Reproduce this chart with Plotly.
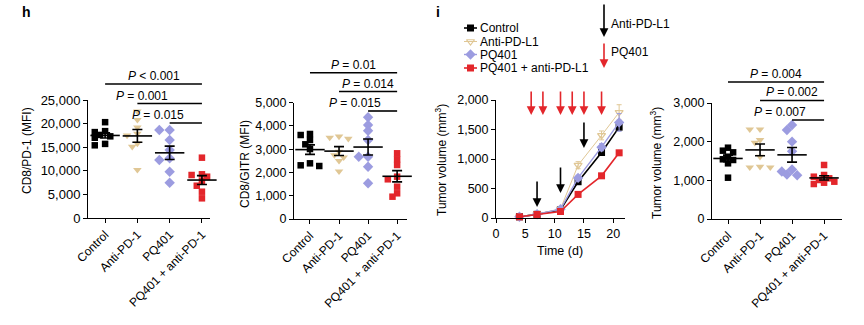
import numpy as np
import plotly.graph_objects as go

W, H = 864, 325
FONT = "Arial, Liberation Sans, Helvetica, sans-serif"

# ---------------- data ----------------
groups = ["Control", "Anti-PD-1", "PQ401", "PQ401 + anti-PD-1"]

pd1_control = [20300, 18400, 18200, 17600, 17300, 17000, 15700, 15400]
pd1_anti = [22600, 20800, 19200, 17900, 17500, 15800, 15100, 10200]
pd1_pq = [18640, 18640, 16530, 14410, 12650, 12290, 9810, 7480]
pd1_combo = [12780, 9260, 9110, 8750, 7840, 6840, 5570, 4170]

gitr_control = [3655, 3611, 3396, 3211, 3009, 2394, 2278, 2308]
gitr_anti = [3550, 3500, 3450, 2900, 2750, 2650, 2500, 2050]
gitr_pq = [4373, 4041, 3797, 3396, 2678, 2678, 2248, 1535]
gitr_combo = [2825, 2567, 2322, 1819, 1707, 1389, 1105, 959]

tv_control = [1844, 1767, 1724, 1611, 1544, 1526, 1440, 1068]
tv_anti = [2320, 2320, 2043, 1974, 1611, 1337, 1337, 1353]
tv_pq = [2430, 2300, 2000, 1750, 1280, 1230, 1150, 1130]
tv_combo = [1397, 1138, 1094, 1052, 1009, 965, 939, 905]

time_days = [4, 7, 11, 14, 18, 21]
curve_names = ["Control", "Anti-PD-L1", "PQ401", "PQ401 + anti-PD-L1"]
curve_control = [20, 62, 140, 615, 1110, 1540]
curve_anti = [20, 66, 155, 895, 1400, 1790]
curve_pq = [20, 64, 150, 680, 1200, 1620]
curve_combo = [20, 60, 110, 400, 715, 1105]
sem_control = [3, 6, 15, 35, 50, 45]
sem_anti = [3, 7, 20, 60, 75, 130]
sem_pq = [3, 7, 18, 45, 60, 150]
sem_combo = [3, 6, 12, 25, 35, 30]

pq401_days = [6, 8, 11, 13, 15, 18]
antipdl1_days = [7, 11, 15]
antipdl1_arrow_tip = [186, 424, 1186]

pd1_pvals = [(0, 3, "<i>P</i> < 0.001"), (1, 3, "<i>P</i> = 0.001"), (2, 3, "<i>P</i> = 0.015")]
gitr_pvals = [(0, 3, "<i>P</i> = 0.01"), (1, 3, "<i>P</i> = 0.014"), (2, 3, "<i>P</i> = 0.015")]
tv_pvals = [(0, 3, "<i>P</i> = 0.004"), (1, 3, "<i>P</i> = 0.002"), (2, 3, "<i>P</i> = 0.007")]

# ---------------- styles ----------------
BLACK = "#000000"
TAN = "#e0c795"
LAV = "#9c9ce0"
RED = "#e3262b"
g_colors = [BLACK, TAN, LAV, RED]
g_symbols = ["square", "triangle-down", "diamond", "square"]
g_sizes = [6.5, 7.5, 8, 6.5]
c_symbols = ["square", "triangle-down-open", "diamond", "square"]
c_widths = [1.6, 1.0, 1.4, 1.6]


def px_x(p):
    return p / W


def px_y(p):
    return 1 - p / H


fig = go.Figure()

axis_common = dict(showline=True, linecolor="black", linewidth=1, ticks="outside",
                   ticklen=4, tickcolor="black", tickwidth=1, showgrid=False,
                   zeroline=False, automargin=False,
                   tickfont=dict(family=FONT, size=12, color="black"))

panels = {
    1: dict(xd=(88, 210), yd=(218, 100), xr=(-0.53, 3.25), yr=(0, 25000), dt=5000, yfs=13),
    2: dict(xd=(294, 407), yd=(219, 102.7), xr=(-0.55, 3.34), yr=(0, 5000), dt=1000, yfs=12.5),
    3: dict(xd=(496, 625), yd=(218, 100), xr=(0, 22), yr=(0, 2000), dt=500, yfs=12.5),
    4: dict(xd=(712, 842), yd=(219, 103), xr=(-0.5, 3.56), yr=(0, 3000), dt=1000, yfs=12.5),
}

for k, p in panels.items():
    suffix = "" if k == 1 else str(k)
    xa = dict(axis_common, domain=[px_x(p["xd"][0]), px_x(p["xd"][1])], range=list(p["xr"]),
              anchor="y" + suffix)
    ya = dict(axis_common, domain=[px_y(p["yd"][0]), px_y(p["yd"][1])], range=list(p["yr"]),
              anchor="x" + suffix, dtick=p["dt"], tickformat=",d",
              tickfont=dict(family=FONT, size=p["yfs"], color="black"))
    if k == 3:
        xa.update(dtick=5, tick0=0, tickfont=dict(family=FONT, size=12.5, color="black"))
    else:
        xa.update(tickvals=[0, 1, 2, 3], ticktext=groups, tickangle=-45)
    fig.update_layout(**{"xaxis" + suffix: xa, "yaxis" + suffix: ya})

# overlay axis in pixel space for legend glyphs and titles
fig.update_layout(
    xaxis5=dict(domain=[0, 1], range=[0, W], visible=False, anchor="y5", automargin=False),
    yaxis5=dict(domain=[0, 1], range=[H, 0], visible=False, anchor="x5", automargin=False),
)


def swarm(vals, px_per_unit, px_per_cat, step=0.16, min_px=5.5):
    vals = np.asarray(vals, dtype=float)
    order = np.argsort(-vals)
    placed = []
    offs = np.zeros(len(vals))
    for idx in order:
        ypx = vals[idx] * px_per_unit
        chosen = 0
        for c in [0, -1, 1, -2, 2, -3, 3]:
            xo = c * step * px_per_cat
            if all((xo - a) ** 2 + (ypx - b) ** 2 >= min_px ** 2 for a, b in placed):
                chosen = c
                break
        placed.append((chosen * step * px_per_cat, ypx))
        offs[idx] = chosen * step
    return offs


def dot_panel(k, data_lists, pvals, levels_px):
    p = panels[k]
    suffix = "" if k == 1 else str(k)
    xs, ys = "x" + suffix, "y" + suffix
    ppu = (p["yd"][0] - p["yd"][1]) / (p["yr"][1] - p["yr"][0])
    ppc = (p["xd"][1] - p["xd"][0]) / (p["xr"][1] - p["xr"][0])
    for i, vals in enumerate(data_lists):
        offs = swarm(vals, ppu, ppc)
        fig.add_trace(go.Scatter(
            x=i + offs, y=vals, mode="markers", xaxis=xs, yaxis=ys, showlegend=False,
            marker=dict(symbol=g_symbols[i], size=g_sizes[i], color=g_colors[i], line=dict(width=0)),
            cliponaxis=False))
        arr = np.asarray(vals, dtype=float)
        mean = arr.mean()
        sem = arr.std(ddof=1) / np.sqrt(len(arr))
        fig.add_trace(go.Scatter(
            x=[i], y=[mean], mode="markers", xaxis=xs, yaxis=ys, showlegend=False,
            marker=dict(symbol="line-ew", size=21, color="black", line=dict(width=1.6, color="black")),
            error_y=dict(type="data", array=[sem], visible=True, color="black", thickness=1.6, width=5),
            cliponaxis=False))
    x0, x1 = p["xr"]
    for (a, b, label), lv in zip(pvals, levels_px):
        yfrac = (p["yd"][0] - lv) / (p["yd"][0] - p["yd"][1])
        fa, fb = (a - x0) / (x1 - x0), (b - x0) / (x1 - x0)
        fig.add_shape(type="line", xref=xs + " domain", yref=ys + " domain",
                      x0=fa, x1=fb, y0=yfrac, y1=yfrac,
                      line=dict(color="black", width=1.6))
        fig.add_annotation(x=(fa + fb) / 2, y=yfrac, xref=xs + " domain", yref=ys + " domain",
                           text=label, showarrow=False, yanchor="bottom", yshift=-1,
                           font=dict(family=FONT, size=12, color="black"))


dot_panel(1, [pd1_control, pd1_anti, pd1_pq, pd1_combo], pd1_pvals, [84, 103.5, 123])
dot_panel(2, [gitr_control, gitr_anti, gitr_pq, gitr_combo], gitr_pvals, [72.7, 91.5, 111])
dot_panel(4, [tv_control, tv_anti, tv_pq, tv_combo], tv_pvals, [82, 100.5, 120])

# ---------------- growth curves ----------------
curves = [curve_control, curve_anti, curve_pq, curve_combo]
sems = [sem_control, sem_anti, sem_pq, sem_combo]
for i, (cv, se) in enumerate(zip(curves, sems)):
    fig.add_trace(go.Scatter(
        x=time_days, y=cv, mode="lines+markers", xaxis="x3", yaxis="y3", showlegend=False,
        line=dict(color=g_colors[i], width=c_widths[i]),
        marker=dict(symbol=c_symbols[i], size=7 if i != 2 else 8, color=g_colors[i],
                    line=dict(width=1.2 if i == 1 else 0, color=g_colors[i])),
        error_y=dict(type="data", array=se, visible=True, color=g_colors[i], thickness=1, width=2.5),
        cliponaxis=False))

# arrows on growth chart
for d in pq401_days:
    fig.add_annotation(x=d, y=1746, xref="x3", yref="y3", ax=0, ay=-25, text="",
                       showarrow=True, arrowhead=2, arrowsize=1.1, arrowwidth=1.6,
                       arrowcolor=RED, standoff=0)
for d, tip in zip(antipdl1_days, antipdl1_arrow_tip):
    fig.add_annotation(x=d, y=tip, xref="x3", yref="y3", ax=0, ay=-27, text="",
                       showarrow=True, arrowhead=2, arrowsize=1.1, arrowwidth=1.6,
                       arrowcolor=BLACK, standoff=0)

# legend glyphs (pixel overlay)
leg_y = [28, 41.5, 54.5, 68]
for i, name in enumerate(curve_names):
    fig.add_trace(go.Scatter(
        x=[464, 477], y=[leg_y[i], leg_y[i]], mode="lines", xaxis="x5", yaxis="y5",
        showlegend=False, line=dict(color=g_colors[i], width=c_widths[i]), hoverinfo="skip"))
    fig.add_trace(go.Scatter(
        x=[470.5], y=[leg_y[i]], mode="markers", xaxis="x5", yaxis="y5", showlegend=False,
        marker=dict(symbol=c_symbols[i], size=7 if i != 2 else 8, color=g_colors[i],
                    line=dict(width=1.2 if i == 1 else 0, color=g_colors[i])), hoverinfo="skip"))
    fig.add_annotation(x=479, y=leg_y[i], xref="x5", yref="y5", text=name, showarrow=False,
                       xanchor="left", yanchor="middle", borderpad=0,
                       font=dict(family=FONT, size=12, color="black"))

# treatment legend arrows
fig.add_annotation(x=604, y=37, xref="x5", yref="y5", ax=604, ay=3, axref="x5", ayref="y5",
                   text="", showarrow=True, arrowhead=2, arrowsize=1.1, arrowwidth=1.6,
                   arrowcolor=BLACK, standoff=0)
fig.add_annotation(x=604, y=68, xref="x5", yref="y5", ax=604, ay=42, axref="x5", ayref="y5",
                   text="", showarrow=True, arrowhead=2, arrowsize=1.1, arrowwidth=1.6,
                   arrowcolor=RED, standoff=0)
fig.add_annotation(x=610, y=24, xref="x5", yref="y5", text="Anti-PD-L1", showarrow=False,
                   xanchor="left", yanchor="middle", borderpad=0,
                   font=dict(family=FONT, size=12, color="black"))
fig.add_annotation(x=610, y=52, xref="x5", yref="y5", text="PQ401", showarrow=False,
                   xanchor="left", yanchor="middle", borderpad=0,
                   font=dict(family=FONT, size=12, color="black"))

# axis titles
titles = [
    (27, 151, "CD8/PD-1 (MFI)"),
    (245, 164, "CD8/GITR (MFI)"),
    (441, 160, "Tumor volume (mm<sup>3</sup>)"),
    (656, 163, "Tumor volume (mm<sup>3</sup>)"),
]
for x, y, t in titles:
    fig.add_annotation(x=x, y=y, xref="x5", yref="y5", text=t, showarrow=False, textangle=-90,
                       xanchor="center", yanchor="middle",
                       font=dict(family=FONT, size=12, color="black"))
fig.add_annotation(x=560, y=251, xref="x5", yref="y5", text="Time (d)", showarrow=False,
                   xanchor="center", yanchor="middle", font=dict(family=FONT, size=12.5, color="black"))

# panel letters
fig.add_annotation(x=20, y=12, xref="x5", yref="y5", text="<b>h</b>", showarrow=False,
                   xanchor="left", yanchor="middle", font=dict(family=FONT, size=14, color="black"))
fig.add_annotation(x=434, y=12, xref="x5", yref="y5", text="<b>i</b>", showarrow=False,
                   xanchor="left", yanchor="middle", font=dict(family=FONT, size=14, color="black"))

fig.update_layout(
    width=W, height=H, margin=dict(l=0, r=0, t=0, b=0, pad=0, autoexpand=False),
    paper_bgcolor="white", plot_bgcolor="rgba(0,0,0,0)",
    showlegend=False, font=dict(family=FONT, size=12, color="black"),
)

fig.write_html("out.html")
